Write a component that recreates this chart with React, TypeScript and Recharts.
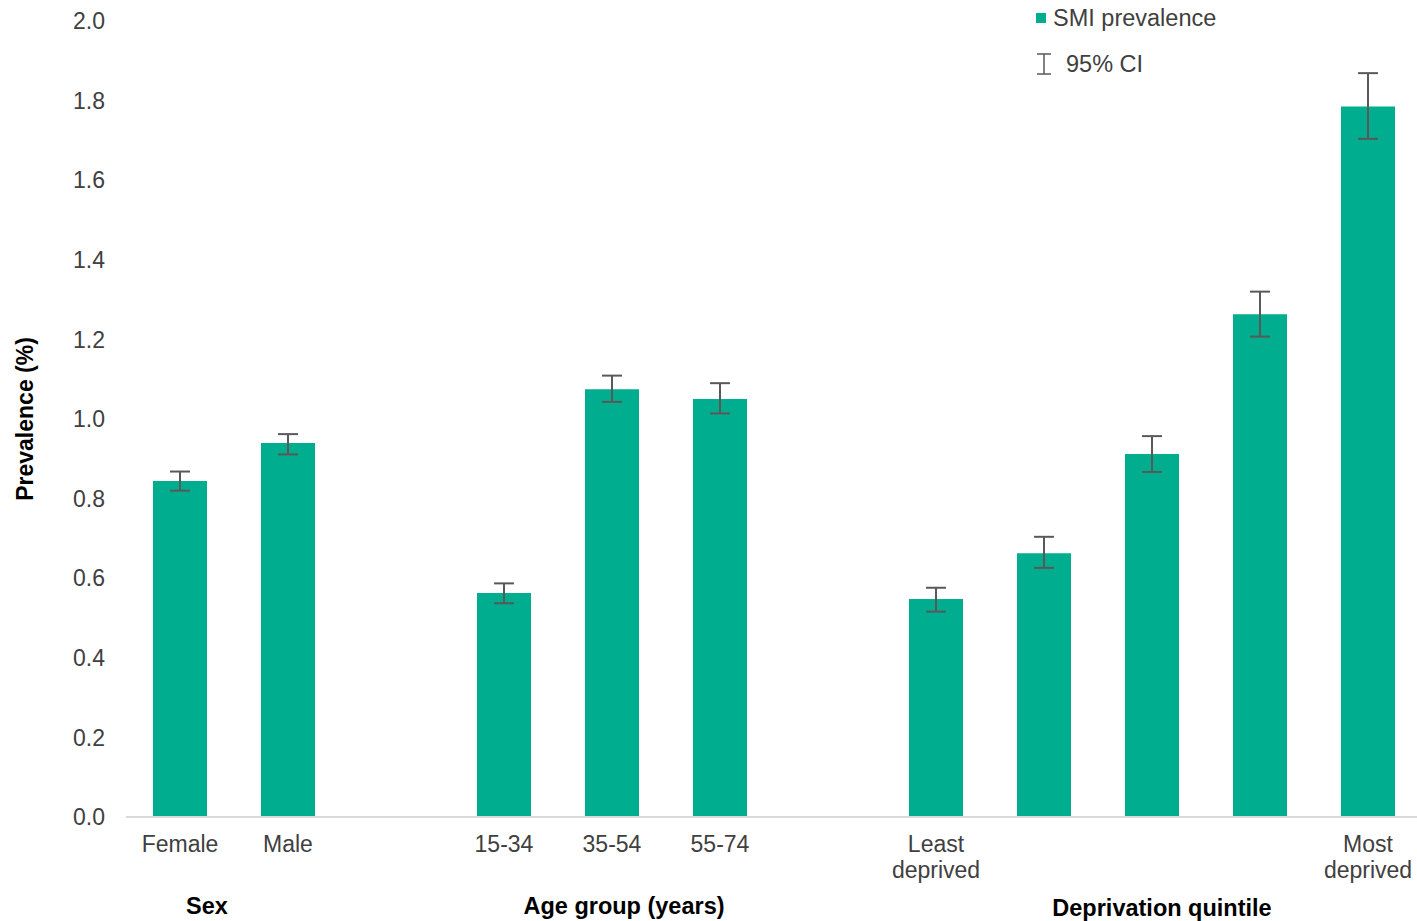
import { Bar, BarChart, ErrorBar, Legend, XAxis, YAxis } from "recharts";

const categories = [
  "Female",
  "Male",
  "gap-1",
  "15-34",
  "35-54",
  "55-74",
  "gap-2",
  "Least deprived",
  "Q2",
  "Q3",
  "Q4",
  "Most deprived",
];

const tickLabels: string[][] = [
  ["Female"],
  ["Male"],
  [],
  ["15-34"],
  ["35-54"],
  ["55-74"],
  [],
  ["Least", "deprived"],
  [],
  [],
  [],
  ["Most", "deprived"],
];

const prevalence = [0.844, 0.94, null, 0.563, 1.075, 1.05, null, 0.548, 0.663, 0.912, 1.263, 1.785];
const ciLower = [0.82, 0.911, null, 0.537, 1.043, 1.014, null, 0.516, 0.626, 0.867, 1.207, 1.704];
const ciUpper = [0.868, 0.962, null, 0.587, 1.109, 1.09, null, 0.576, 0.704, 0.957, 1.32, 1.869];

const yTicks = [0, 0.2, 0.4, 0.6, 0.8, 1.0, 1.2, 1.4, 1.6, 1.8, 2.0];

const groupLabels = [
  { text: "Sex", x: 207, y: 906 },
  { text: "Age group (years)", x: 624, y: 906 },
  { text: "Deprivation quintile", x: 1162, y: 908 },
];

const TEAL = "#00ad8e";
const TEXT = "#404040";
const FONT = "'Liberation Sans', Arial, sans-serif";

const data = categories.map((c, i) => {
  const v = prevalence[i];
  const lo = ciLower[i];
  const hi = ciUpper[i];
  return {
    key: c,
    value: v,
    ci: v != null && lo != null && hi != null ? [v - lo, hi - v] : null,
  };
});

const CategoryTick = (props: any) => {
  const { x, y, payload } = props;
  const idx = categories.indexOf(payload.value);
  const lines = tickLabels[idx] || [];
  return (
    <g>
      {lines.map((l, i) => (
        <text
          key={i}
          x={x}
          y={y + 33 + i * 26}
          textAnchor="middle"
          fill={TEXT}
          fontSize={23}
          fontFamily={FONT}
        >
          {l}
        </text>
      ))}
    </g>
  );
};

const LegendContent = () => (
  <div style={{ fontFamily: FONT, fontSize: 23.5, color: TEXT, lineHeight: "26px" }}>
    <div style={{ display: "flex", alignItems: "center", height: 26 }}>
      <span style={{ display: "inline-block", width: 10, height: 10, background: TEAL, marginRight: 7 }} />
      SMI prevalence
    </div>
    <div style={{ display: "flex", alignItems: "center", height: 26, marginTop: 20 }}>
      <svg width={18} height={24} style={{ marginRight: 12 }}>
        <line x1={1} y1={2} x2={15} y2={2} stroke="#595959" strokeWidth={1.5} />
        <line x1={8} y1={2} x2={8} y2={22} stroke="#595959" strokeWidth={1.5} />
        <line x1={1} y1={22} x2={15} y2={22} stroke="#595959" strokeWidth={1.5} />
      </svg>
      95% CI
    </div>
  </div>
);

export default function App() {
  return (
    <div style={{ position: "absolute", left: 0, top: 0, width: 1417, height: 921, overflow: "hidden", background: "#fff" }}>
      <BarChart
        width={1417}
        height={921}
        data={data}
        margin={{ top: 21, right: -5, bottom: 0, left: 0 }}
        barCategoryGap="25%"
      >
        <XAxis
          dataKey="key"
          interval={0}
          height={104}
          tickLine={false}
          tickSize={0}
          tickMargin={2}
          axisLine={{ stroke: "#d9d9d9", strokeWidth: 2 }}
          tick={<CategoryTick />}
        />
        <YAxis
          width={126}
          domain={[0, 2]}
          ticks={yTicks}
          axisLine={false}
          tickLine={false}
          tickSize={0}
          tickMargin={21}
          tickFormatter={(v: number) => v.toFixed(1)}
          tick={{ fill: TEXT, fontSize: 23, fontFamily: FONT }}
          label={{
            content: (p: any) => {
              const vb = p.viewBox;
              const cy = vb.y + vb.height / 2;
              return (
                <text
                  x={25}
                  y={cy}
                  transform={`rotate(-90 25 ${cy})`}
                  textAnchor="middle"
                  dominantBaseline="central"
                  fontSize={23}
                  fontWeight="bold"
                  fill="#000"
                  fontFamily={FONT}
                >
                  Prevalence (%)
                </text>
              );
            },
          }}
        />
        <Legend
          layout="horizontal"
          verticalAlign="middle"
          content={<LegendContent />}
          wrapperStyle={{ position: "absolute", left: 1036, top: 5, width: 260 }}
        />
        <Bar dataKey="value" name="SMI prevalence" fill={TEAL} isAnimationActive={false}>
          <ErrorBar dataKey="ci" width={10} stroke="#595959" strokeWidth={2} direction="y" />
        </Bar>
      </BarChart>
      {groupLabels.map((g) => (
        <div
          key={g.text}
          style={{
            position: "absolute",
            left: g.x - 200,
            width: 400,
            top: g.y - 14,
            textAlign: "center",
            fontFamily: FONT,
            fontSize: 23.5,
            fontWeight: "bold",
            color: "#000",
            lineHeight: "28px",
          }}
        >
          {g.text}
        </div>
      ))}
    </div>
  );
}
